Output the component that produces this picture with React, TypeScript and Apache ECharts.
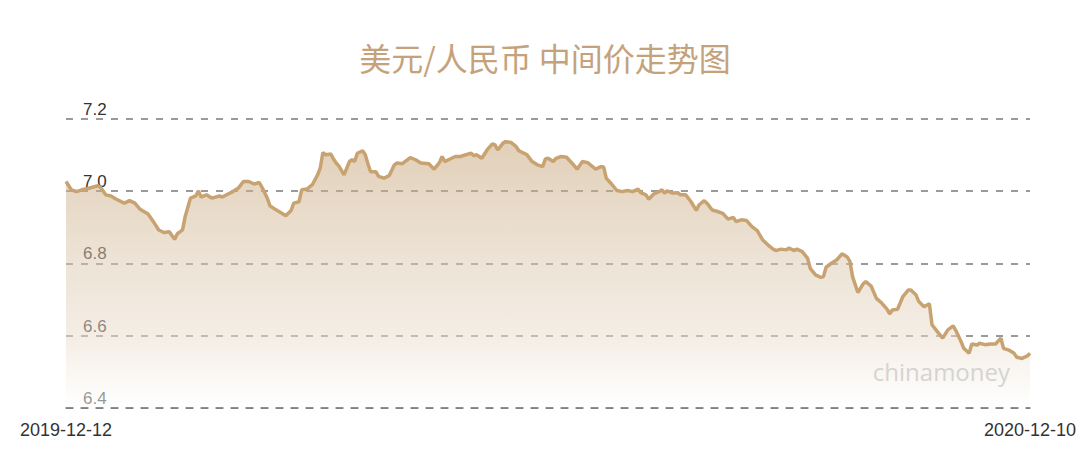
import React, { useEffect, useRef } from "react";
import * as echarts from "echarts";

const title = "美元/人民币 中间价走势图";
const startDate = "2019-12-12";
const endDate = "2020-12-10";
const yTicks = [6.4, 6.6, 6.8, 7.0, 7.2];

const dayOffsets = [
  0, 2, 4, 6, 9, 12, 13, 15, 17, 19, 22, 24, 26, 28, 31, 33, 35, 37, 39, 41,
  42, 44, 45, 47, 49, 50, 51, 53, 55, 58, 59, 63, 65, 67, 69, 71, 73, 74, 76, 77,
  79, 81, 83, 85, 86, 88, 89, 91, 93, 95, 96, 97, 98, 100, 101, 102, 103, 105, 107, 108,
  109, 110, 112, 113, 114, 115, 117, 118, 120, 122, 124, 125, 127, 130, 132, 134, 137, 139, 141, 142,
  143, 145, 147, 149, 151, 153, 154, 155, 157, 159, 161, 162, 163, 165, 166, 168, 170, 171, 174, 176,
  178, 180, 181, 182, 184, 185, 187, 189, 191, 193, 195, 197, 198, 200, 202, 203, 204, 206, 208, 210,
  212, 214, 216, 217, 219, 220, 222, 224, 225, 226, 227, 229, 231, 232, 234, 236, 238, 239, 241, 242,
  244, 246, 248, 250, 252, 253, 255, 257, 259, 261, 263, 265, 267, 268, 270, 272, 273, 275, 276, 278,
  280, 281, 283, 285, 286, 287, 289, 291, 293, 295, 296, 297, 299, 301, 302, 304, 306, 308, 310, 311,
  312, 314, 316, 318, 319, 321, 322, 324, 326, 327, 329, 331, 333, 335, 336, 338, 339, 341, 342, 344,
  345, 347, 349, 351, 353, 354, 356, 358, 359, 361, 363, 364,
];

const rates = [
  7.026, 7.003, 6.998, 7.003, 7.008, 7.014, 7.01, 6.989, 6.986, 6.977, 6.966, 6.973, 6.966, 6.949, 6.936, 6.915, 6.892, 6.885, 6.887, 6.866,
  6.881, 6.892, 6.929, 6.98, 6.986, 7.0, 6.983, 6.989, 6.98, 6.986, 6.983, 6.998, 7.007, 7.026, 7.026, 7.019, 7.023, 7.01, 6.98, 6.959,
  6.949, 6.94, 6.931, 6.946, 6.966, 6.97, 7.003, 7.005, 7.017, 7.044, 7.063, 7.106, 7.1, 7.102, 7.088, 7.077, 7.069, 7.044, 7.081, 7.086,
  7.081, 7.104, 7.111, 7.1, 7.075, 7.053, 7.053, 7.04, 7.035, 7.042, 7.072, 7.077, 7.075, 7.092, 7.086, 7.077, 7.075, 7.06, 7.078, 7.095,
  7.081, 7.088, 7.095, 7.095, 7.1, 7.104, 7.097, 7.1, 7.09, 7.113, 7.13, 7.127, 7.113, 7.132, 7.136, 7.134, 7.122, 7.111, 7.1, 7.081,
  7.072, 7.067, 7.088, 7.09, 7.081, 7.09, 7.095, 7.093, 7.077, 7.06, 7.081, 7.078, 7.072, 7.06, 7.067, 7.066, 7.035, 7.019, 7.001, 6.998,
  7.001, 6.998, 7.005, 6.995, 6.989, 6.977, 6.992, 6.998, 7.003, 6.994, 7.0, 6.994, 6.995, 6.989, 6.989, 6.97, 6.946, 6.961, 6.973, 6.966,
  6.947, 6.943, 6.938, 6.922, 6.927, 6.915, 6.92, 6.918, 6.901, 6.89, 6.865, 6.851, 6.839, 6.835, 6.839, 6.837, 6.842, 6.835, 6.839, 6.832,
  6.814, 6.786, 6.768, 6.761, 6.763, 6.789, 6.8, 6.809, 6.826, 6.817, 6.805, 6.763, 6.719, 6.743, 6.749, 6.737, 6.703, 6.69, 6.673, 6.66,
  6.671, 6.673, 6.708, 6.726, 6.726, 6.712, 6.694, 6.68, 6.688, 6.63, 6.611, 6.593, 6.616, 6.627, 6.614, 6.583, 6.565, 6.551, 6.577, 6.574,
  6.579, 6.575, 6.577, 6.577, 6.593, 6.565, 6.56, 6.551, 6.54, 6.537, 6.544, 6.551,
];

const watermark = "chinamoney";

function offsetToDate(off: number): string {
  const [y, m, d] = startDate.split("-").map(Number);
  const t = new Date(Date.UTC(y, m - 1, d) + off * 86400000);
  const mm = String(t.getUTCMonth() + 1).padStart(2, "0");
  const dd = String(t.getUTCDate()).padStart(2, "0");
  return `${t.getUTCFullYear()}-${mm}-${dd}`;
}

const totalDays = dayOffsets[dayOffsets.length - 1];

export default function App() {
  const ref = useRef<HTMLDivElement>(null);
  useEffect(() => {
    if (!ref.current) return;
    const chart = echarts.init(ref.current, undefined, { renderer: "svg" });
    const data = dayOffsets.map((d, i) => [d, rates[i]]);
    const dash = { color: "#7a7a7a", width: 1.5, type: [7, 8] as number[] };
    chart.setOption({
      animation: false,
      backgroundColor: "#ffffff",
      title: {
        text: title,
        left: "center",
        top: 36,
        textStyle: {
          color: "#c4a27c",
          fontSize: 32,
          fontWeight: "normal",
          fontFamily: "'Noto Sans CJK SC', sans-serif",
        },
      },
      grid: { left: 66, right: 60, top: 118.5, bottom: 56, containLabel: false },
      xAxis: {
        type: "value",
        min: 0,
        max: totalDays,
        interval: totalDays,
        z: 5,
        axisLine: { show: true, lineStyle: dash },
        axisTick: { show: false },
        splitLine: { show: false },
        axisLabel: {
          color: "#333",
          fontSize: 18,
          fontFamily: "'Liberation Sans', Arial, sans-serif",
          margin: 13,
          showMinLabel: true,
          showMaxLabel: true,
          formatter: (v: number) => (v === 0 ? startDate : v === totalDays ? endDate : offsetToDate(v)),
        },
      },
      yAxis: {
        type: "value",
        min: yTicks[0],
        max: yTicks[yTicks.length - 1],
        interval: 0.2,
        z: 0,
        axisLine: { show: false },
        axisTick: { show: false },
        axisLabel: {
          inside: true,
          margin: 17,
          verticalAlign: "bottom",
          color: "#333",
          fontSize: 17,
          fontFamily: "'Liberation Sans', Arial, sans-serif",
          padding: [0, 0, 1, 0],
          formatter: (v: number) => v.toFixed(1),
        },
        splitLine: { show: true, lineStyle: dash },
      },
      series: [
        {
          type: "line",
          z: 2,
          data,
          symbol: "none",
          lineStyle: { color: "#c8a371", width: 3.5 },
          itemStyle: { color: "#c8a371" },
          areaStyle: {
            color: new echarts.graphic.LinearGradient(0, 0, 0, 1, [
              { offset: 0, color: "rgba(197,162,115,0.72)" },
              { offset: 0.46, color: "rgba(220,201,176,0.72)" },
              { offset: 0.73, color: "rgba(234,220,203,0.72)" },
              { offset: 1, color: "rgba(255,255,255,0.72)" },
            ]),
          },
        },
      ],
      graphic: [
        {
          type: "text",
          right: 80,
          top: 359,
          z: 10,
          style: {
            text: watermark,
            fill: "#d4d4d4",
            fontSize: 24,
            fontFamily: "'Open Sans', 'Noto Sans', sans-serif",
          },
        },
      ],
    });
    return () => chart.dispose();
  }, []);
  return (
    <div
      ref={ref}
      style={{ position: "fixed", left: 0, top: 0, width: 1090, height: 464 }}
    />
  );
}
